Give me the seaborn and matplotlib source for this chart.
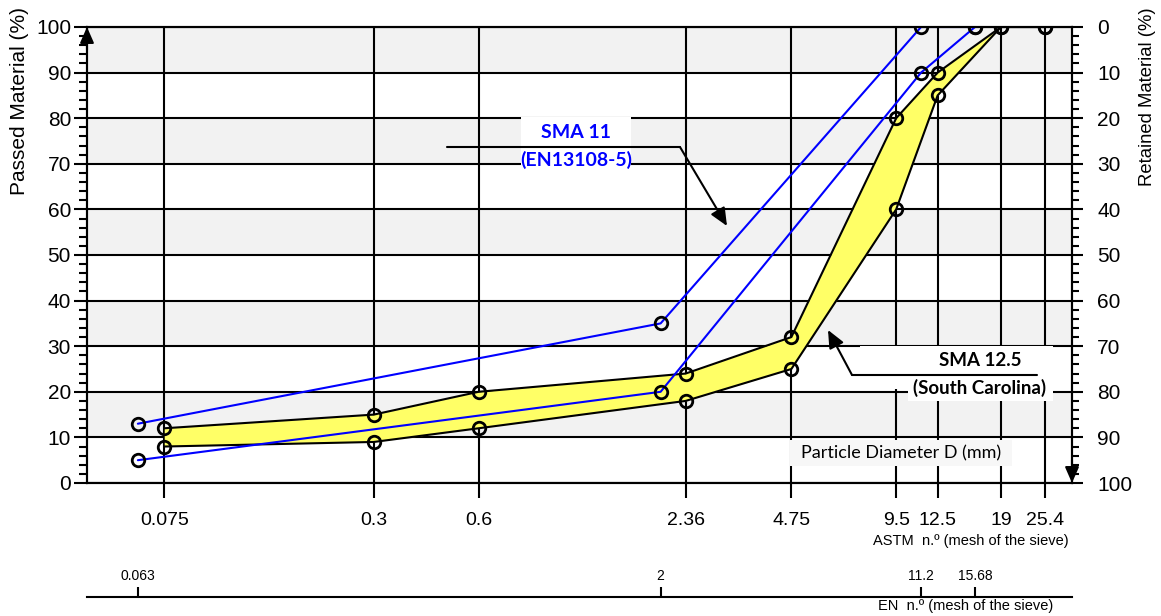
import matplotlib
matplotlib.use("Agg")
import matplotlib.pyplot as plt
from matplotlib.patches import Rectangle
from matplotlib.ticker import MultipleLocator, NullLocator
import seaborn as sns

# ASTM sieve openings (mm) and the SMA 12.5 (South Carolina) grading envelope
astm_sieves = [0.075, 0.3, 0.6, 2.36, 4.75, 9.5, 12.5, 19, 25.4]
astm_labels = ["0.075", "0.3", "0.6", "2.36", "4.75", "9.5", "12.5", "19", "25.4"]
sma125_upper = [12, 15, 20, 24, 32, 80, 90, 100, 100]
sma125_lower = [8, 9, 12, 18, 25, 60, 85, 100, 100]

# EN sieve openings (mm) and the SMA 11 (EN13108-5) grading envelope
en_sieves = [0.063, 2, 11.2, 16]
en_labels = ["0.063", "2", "11.2", "15.68"]
sma11_upper = [13, 35, 100, 100]
sma11_lower = [5, 20, 90, 100]

passed_ticks = list(range(0, 101, 10))
retained_ticks = list(range(0, 101, 10))

sns.set_theme(style="ticks", rc={
    "axes.edgecolor": "black", "xtick.color": "black", "ytick.color": "black",
    "text.color": "black", "axes.labelcolor": "black",
})
plt.rcParams["font.family"] = ["Liberation Sans", "DejaVu Sans"]

W, H = 1161, 616
fig = plt.figure(figsize=(W / 100, H / 100), dpi=100)
ax = fig.add_axes([87 / W, 1 - 483 / H, (1072 - 87) / W, (483 - 27) / H])
ax.set_xscale("log")
ax.set_xlim(0.045, 30.4)
ax.set_ylim(0, 100)

# alternating light bands
for lo in range(10, 100, 20):
    ax.axhspan(lo, lo + 10, color="#f2f2f2", lw=0, zorder=0.2)

ax.set_axisbelow(True)
ax.set_xticks(astm_sieves)
ax.set_xticklabels(astm_labels)
ax.xaxis.set_minor_locator(NullLocator())
ax.set_yticks(passed_ticks)
ax.yaxis.set_minor_locator(MultipleLocator(2))
ax.grid(True, which="major", color="black", lw=1.5)
ax.tick_params(axis="y", which="major", direction="out", length=9.5, width=1.5,
               labelsize=15, pad=2)
ax.tick_params(axis="y", which="minor", direction="out", length=5.5, width=1.5)
ax.tick_params(axis="x", which="major", direction="out", length=11, width=1.5,
               labelsize=14, pad=10)
for sp in ax.spines.values():
    sp.set_linewidth(1.5)
    sp.set_color("black")

# retained scale on the right
ax2 = ax.twinx()
ax2.set_ylim(100, 0)
ax2.set_yticks(retained_ticks)
ax2.yaxis.set_minor_locator(MultipleLocator(2))
ax2.tick_params(axis="y", which="major", direction="out", length=8, width=1.5,
                labelsize=15, pad=10)
ax2.tick_params(axis="y", which="minor", direction="out", length=5, width=1.5)
for sp in ax2.spines.values():
    sp.set_linewidth(1.5)
    sp.set_color("black")

# SMA 12.5 envelope
ax.fill_between(astm_sieves, sma125_lower, sma125_upper, color="#ffff66",
                lw=0, zorder=2)
marker_kw = dict(marker="o", markersize=9, markerfacecolor="none",
                 markeredgecolor="black", markeredgewidth=2)
for ys in (sma125_upper, sma125_lower):
    sns.lineplot(x=astm_sieves, y=ys, ax=ax, color="black", lw=1.5,
                 errorbar=None, zorder=3, **marker_kw)

# SMA 11 envelope
for ys in (sma11_upper, sma11_lower):
    sns.lineplot(x=en_sieves, y=ys, ax=ax, color="#0000ff", lw=1.5,
                 errorbar=None, zorder=4, **marker_kw)

# axis arrows
arrow_kw = dict(arrowstyle="-|>,head_length=0.8,head_width=0.35", color="black",
                lw=1.5, shrinkA=0, shrinkB=0)
ax.annotate("", xy=(0, 1), xytext=(0, 0.95), xycoords="axes fraction",
            arrowprops=arrow_kw, annotation_clip=False, zorder=8)
ax.annotate("", xy=(1, 0), xytext=(1, 0.05), xycoords="axes fraction",
            arrowprops=arrow_kw, annotation_clip=False, zorder=8)


def px(x, y):
    """Figure pixel position -> axes fraction."""
    return (x - 87) / 985, (483 - y) / 456


def white_box(x0, y0, x1, y1, color="white"):
    a = px(x0, y1)
    b = px(x1, y0)
    ax.add_patch(Rectangle(a, b[0] - a[0], b[1] - a[1], transform=ax.transAxes,
                           facecolor=color, edgecolor="none", zorder=5))


label_font = ["Lato", "DejaVu Sans"]
pointer_kw = dict(arrowstyle="-|>,head_length=0.9,head_width=0.4", color="black",
                  lw=1.5, shrinkA=0, shrinkB=0)

# SMA 11 callout
white_box(521, 117, 631, 172)
ax.text(*px(576, 133), "SMA 11", transform=ax.transAxes, ha="center", va="center",
        color="#0000ff", fontweight="bold", fontsize=14, family=label_font, zorder=6)
ax.text(*px(576, 160), "(EN13108-5)", transform=ax.transAxes, ha="center",
        va="center", color="#0000ff", fontweight="bold", fontsize=14,
        family=label_font, zorder=6)
p0, p1, p2 = px(447, 147), px(680, 147), px(727, 226)
ax.plot([p0[0], p1[0]], [p0[1], p1[1]], transform=ax.transAxes, color="black",
        lw=1.5, zorder=7)
ax.annotate("", xy=p2, xytext=p1, xycoords="axes fraction", arrowprops=pointer_kw,
            zorder=7)

# SMA 12.5 callout
white_box(860, 346, 1053, 389)
white_box(908, 375, 1053, 401)
ax.text(*px(980, 360), "SMA 12.5", transform=ax.transAxes, ha="center",
        va="center", fontweight="bold", fontsize=13.5, family=label_font, zorder=6)
ax.text(*px(980, 388), "(South Carolina)", transform=ax.transAxes, ha="center",
        va="center", fontweight="bold", fontsize=13.5, family=label_font, zorder=6)
q0, q1, q2 = px(1037, 375), px(852, 375), px(828, 330)
ax.plot([q0[0], q1[0]], [q0[1], q1[1]], transform=ax.transAxes, color="black",
        lw=1.5, zorder=7)
ax.annotate("", xy=q2, xytext=q1, xycoords="axes fraction", arrowprops=pointer_kw,
            zorder=7)

# axis caption inside the plot
white_box(790, 440, 1012, 466, color="#f7f7f7")
ax.text(*px(901, 453), "Particle Diameter D (mm)", transform=ax.transAxes,
        ha="center", va="center", fontsize=13, family=label_font, zorder=6)

# EN sieve scale below the ASTM scale
secax = ax.secondary_xaxis(-0.25)
secax.set_xticks(en_sieves)
secax.set_xticklabels(en_labels)
secax.xaxis.set_minor_locator(NullLocator())
secax.tick_params(axis="x", which="both", top=True, bottom=False, labeltop=True,
                  labelbottom=False, direction="out", length=7, width=1.5,
                  labelsize=10, pad=3)
for name, sp in secax.spines.items():
    sp.set_visible(name == "bottom")
    sp.set_linewidth(1.5)
    sp.set_color("black")

fig.text(20 / W, 1 - 101 / H, "Passed Material (%)", rotation=90, ha="center",
         va="center", fontsize=15)
fig.text(1148 / W, 1 - 97 / H, "Retained Material (%)", rotation=90, ha="center",
         va="center", fontsize=13.3)
fig.text(971 / W, 1 - 541 / H, "ASTM  n.º (mesh of the sieve)", ha="center",
         va="center", fontsize=10.5)
fig.text(966 / W, 1 - 606 / H, "EN  n.º (mesh of the sieve)", ha="center",
         va="center", fontsize=10.5)

fig.savefig("out.png", dpi=100)
